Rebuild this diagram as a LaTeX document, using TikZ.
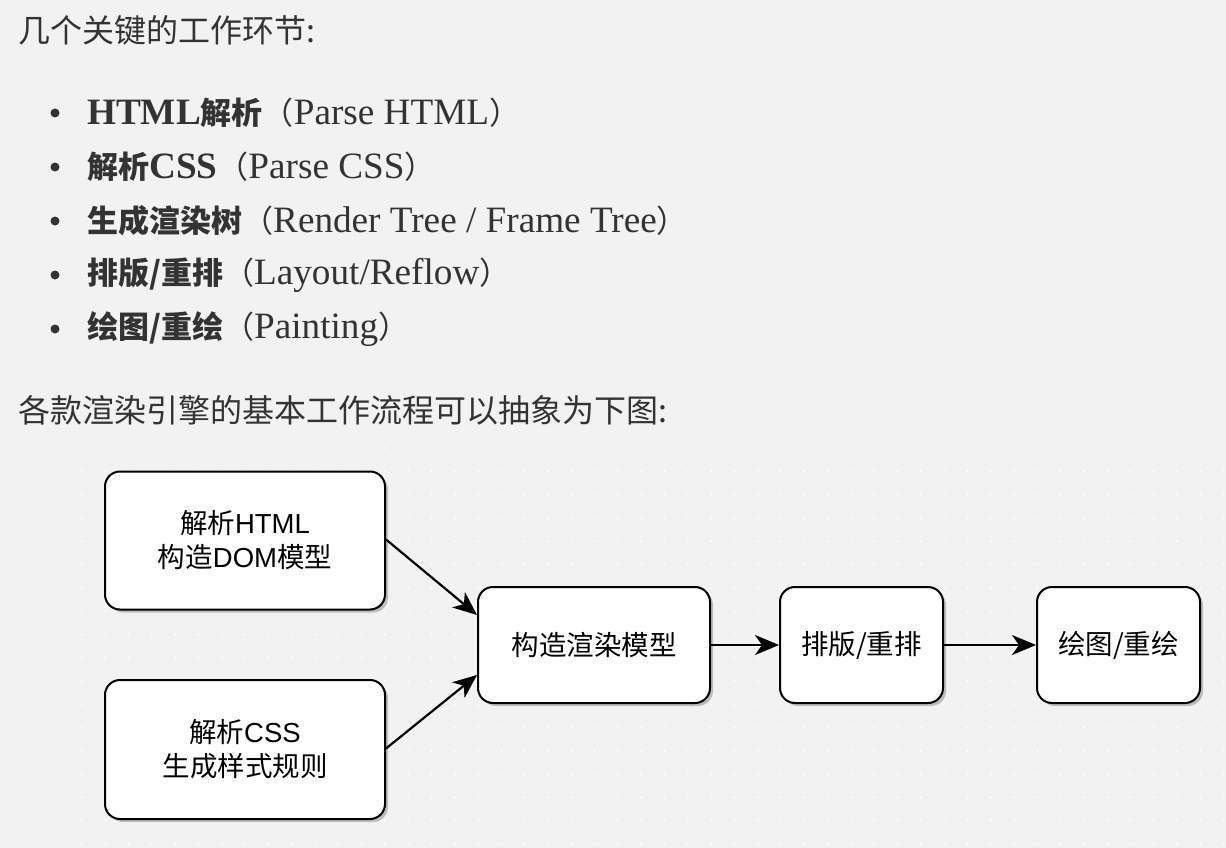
\documentclass[tikz,border=0pt]{standalone}
\usepackage{fontspec}
\setmainfont{Liberation Serif}[Scale=1.2]
\newfontfamily\cjk{Noto Sans CJK SC}
\newfontfamily\boxlat{Liberation Sans}
\usetikzlibrary{arrows.meta,shadows}
\definecolor{pagebg}{HTML}{F2F2F2}
\definecolor{ink}{HTML}{333333}

\begin{document}
\begin{tikzpicture}[x=1pt,y=-1pt,line join=round,
  every node/.style={text=ink,inner sep=0pt},
  para/.style={anchor=west,font=\cjk\fontsize{32}{38}\selectfont},
  item/.style={anchor=west,font=\fontsize{31}{36}\selectfont},
  dot/.style={circle,fill=ink,minimum size=9pt},
  blk/.style={draw=black,line width=2pt,fill=white,rounded corners=15pt,align=center,
    text=black,font=\cjk\fontsize{27.5}{34}\selectfont,
    drop shadow={shadow xshift=3pt,shadow yshift=-3pt,fill=black!40,opacity=0.6}},
  link/.style={-{Stealth[length=24pt,width=20pt,inset=7pt]},line width=2.2pt}]
\useasboundingbox (0,0) rectangle (1226,848);
\fill[pagebg] (0,0) rectangle (1226,848);
% canvas grid
\foreach \gx in {82,105.3,...,1226}
  \foreach \gy in {448,471.3,...,848}
    \fill[white] (\gx,\gy) circle (1.1pt);
% text part
\node[para] (title) at (18,30) {几个关键的工作环节:};
\foreach \y [count=\i] in {113,167,221,275,329}
  \node[dot] (dot\i) at (55,\y) {};
\node[item] (item1) at (87,113) {{\bfseries HTML}{\cjk\bfseries 解析}{\cjk （}Parse HTML{\cjk ）}};
\node[item] (item2) at (87,167) {{\cjk\bfseries 解析}{\bfseries CSS}{\cjk （}Parse CSS{\cjk ）}};
\node[item] (item3) at (87,221) {{\cjk\bfseries 生成渲染树}{\cjk （}Render Tree / Frame Tree{\cjk ）}};
\node[item] (item4) at (87,275) {{\cjk\bfseries 排版/重排}{\cjk （}Layout/Reflow{\cjk ）}};
\node[item] (item5) at (87,329) {{\cjk\bfseries 绘图/重绘}{\cjk （}Painting{\cjk ）}};
\node[para] (lead) at (18,410) {各款渲染引擎的基本工作流程可以抽象为下图:};
% flow chart
\node[blk,minimum width=280pt,minimum height=138pt] (html) at (245,540.5) {解析{\boxlat HTML}\\构造{\boxlat DOM}模型};
\node[blk,minimum width=280pt,minimum height=139pt] (css) at (245,749.5) {解析{\boxlat CSS}\\生成样式规则};
\node[blk,minimum width=232pt,minimum height=116pt] (render) at (594,645) {构造渲染模型};
\node[blk,minimum width=163pt,minimum height=116pt] (layout) at (861.5,645) {排版/重排};
\node[blk,minimum width=163pt,minimum height=116pt] (paint) at (1118.5,645) {绘图/重绘};
\draw[link] ([yshift=1pt]html.east) -- ([yshift=30pt]render.west);
\draw[link] ([yshift=1pt]css.east) -- ([yshift=-30pt]render.west);
\draw[link] (render) -- (layout);
\draw[link] (layout) -- (paint);
\end{tikzpicture}
\end{document}
